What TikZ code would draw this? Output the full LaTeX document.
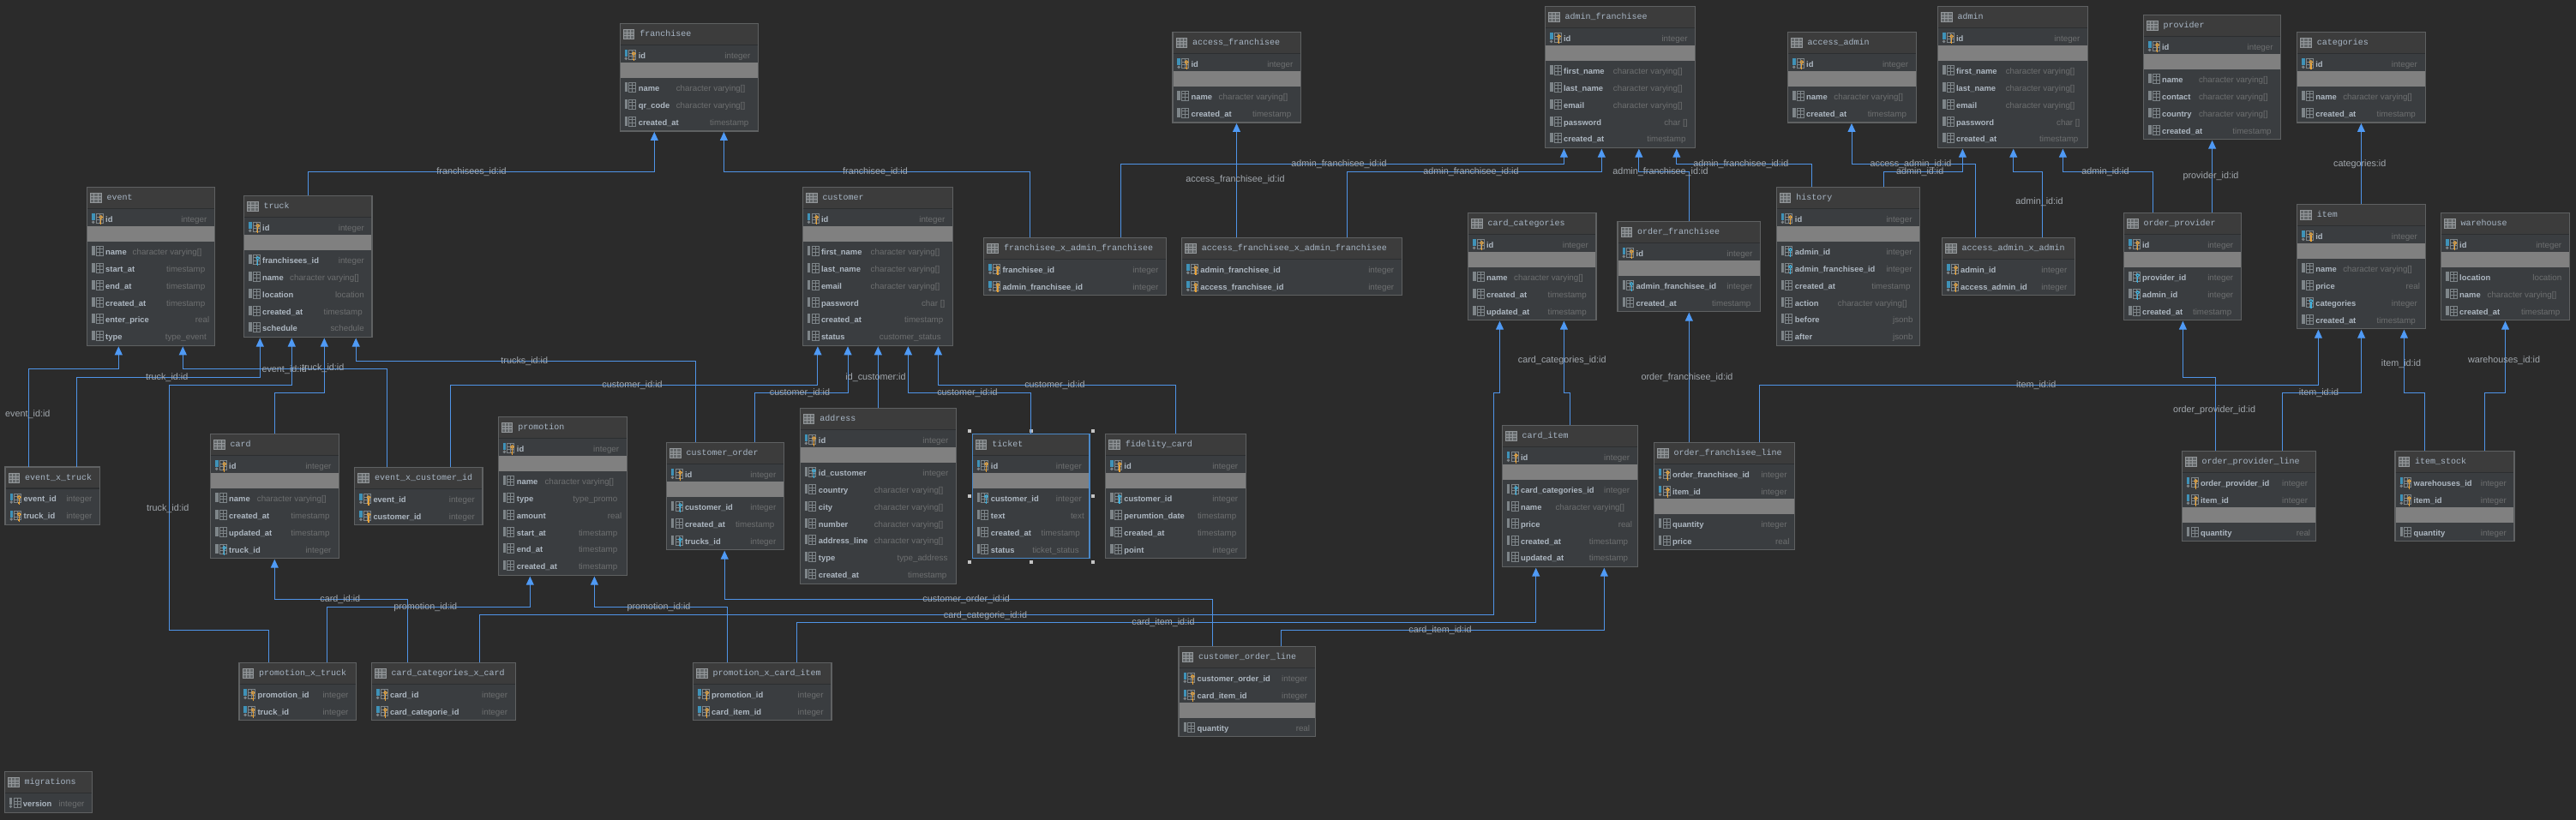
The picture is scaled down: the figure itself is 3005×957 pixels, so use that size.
\documentclass[tikz,border=0pt]{standalone}
\usepackage{fontspec}
\setmainfont{Liberation Sans}
\newfontfamily\titlefont{Liberation Mono}
\usetikzlibrary{arrows.meta}
\definecolor{bgc}{HTML}{2B2B2B}
\definecolor{bodyc}{HTML}{3A3D40}
\definecolor{headc}{HTML}{3C3C3C}
\definecolor{bandc}{HTML}{808080}
\definecolor{edgec}{HTML}{5F6162}
\definecolor{sepc}{HTML}{2C2E30}
\definecolor{titlec}{HTML}{A9B7C6}
\definecolor{namec}{HTML}{AEB8C2}
\definecolor{typec}{HTML}{6D6F70}
\definecolor{labelc}{HTML}{A2A8AE}
\definecolor{linec}{HTML}{4F94E8}
\definecolor{tipc}{HTML}{4F9AF5}
\definecolor{icong}{HTML}{7E8589}
\definecolor{icont}{HTML}{93979A}
\definecolor{iconb}{HTML}{3F92B8}
\definecolor{keyo}{HTML}{E8A33A}
\definecolor{keyc}{HTML}{3FB2DE}
\definecolor{selc}{HTML}{4A88C7}
\definecolor{handlec}{HTML}{C4C4C4}
\tikzset{
  tblbox/.style={draw=edgec,fill=bodyc,line width=1.2pt,inner sep=0pt,outer sep=0pt},
  tbltitle/.style={anchor=base west,inner sep=0pt,text=titlec,font=\titlefont\fontsize{10}{12}\selectfont},
  rowname/.style={anchor=base west,inner sep=0pt,text=namec,font=\bfseries\fontsize{9.4}{11}\selectfont},
  rowtype/.style={anchor=base east,inner sep=0pt,text=typec,font=\fontsize{9.8}{11}\selectfont},
  fk/.style={draw=linec,line width=1pt,shorten >=1pt,-{Triangle[width=9pt,length=10pt,fill=tipc,color=tipc]}},
  fklabel/.style={inner sep=0pt,text=labelc,font=\fontsize{10.8}{12}\selectfont},
  icline/.style={draw=icong,line width=.6pt},
}
\newcount\rc
\newcount\nid
\newcommand\deftype[3]{\expandafter\def\csname tyo@#1\endcsname{#2}\expandafter\def\csname tyt@#1\endcsname{#3}}
\deftype{int}{9}{integer}
\deftype{vc}{15}{character varying[]}
\deftype{ts}{11}{timestamp}
\deftype{real}{6}{real}
\deftype{chr}{9}{char []}
\deftype{loc}{9}{location}
\deftype{sch}{9}{schedule}
\deftype{tev}{9.5}{type\_event}
\deftype{cst}{13.5}{customer\_status}
\deftype{jsn}{8}{jsonb}
\deftype{txt}{6}{text}
\deftype{tad}{10}{type\_address}
\deftype{tks}{12}{ticket\_status}
\deftype{tpr}{11}{type\_promo}
\newcommand\colicon[3]{%
  \begin{scope}[shift={(#1,#2)}]
    \ifx#3p\fill[iconb] (0,0) rectangle (3.6,8);\fill[icong] (1.7,10) circle (1.9);
    \else\ifx#3n\fill[icong] (0,0) rectangle (3.6,8);\fill[icong] (1.7,10) circle (1.9);
    \else\fill[icong] (0,0) rectangle (3.6,11);\fi\fi
    \draw[icline] (5,.3) rectangle (13,10.7) (5,3.6) -- (13,3.6) (5,7) -- (13,7) (9,.3) -- (9,10.7);
    \ifx#3p\draw[keyo,line width=1.3pt] (10.8,6) -- (10.8,13.2) (10.8,11) -- (9,11);\draw[keyo,line width=1pt] (10.8,4.2) circle (1.8);\fi
    \ifx#3f\draw[keyc,line width=1.3pt] (10.8,6) -- (10.8,13.2) (10.8,11) -- (9,11);\draw[keyc,line width=1pt] (10.8,4.2) circle (1.8);\fi
  \end{scope}}
\newcommand\tbl[7][edgec]{% colour,name,x0,x1,top,bottom,title
  \def\cn{#2}\def\tl{#3}\def\tr{#4}
  \pgfmathsetmacro\cxx{(#3+#4)/2}\pgfmathsetmacro\cyy{(#5+#6)/2}
  \pgfmathsetmacro\tww{#4-#3}\pgfmathsetmacro\thh{#6-#5}
  \node[tblbox,draw=#1,minimum width=\tww pt,minimum height=\thh pt] (#2) at (\cxx,\cyy) {};
  \fill[headc] ({#3+.6},{#5+.6}) rectangle ({#4-.6},{#5+24.6});
  \draw[sepc,line width=1.2pt] ({#3+.6},{#5+25}) -- ({#4-.6},{#5+25});
  \begin{scope}[shift={({#3+4},{#5+7.5})}]
    \draw[draw=icont,line width=.8pt,fill=icong!60!headc] (0,0) rectangle (12.6,10.5) (0,3.5) -- (12.6,3.5) (0,7) -- (12.6,7) (4.2,0) -- (4.2,10.5) (8.4,0) -- (8.4,10.5);
  \end{scope}
  \node[tbltitle] (#2-title) at ({#3+23},{#5+15.5}) {#7};
  \pgfmathsetmacro\cy{#5+37.5}\rc=0
}
\newcommand\rw[3]{% icon,name,type
  \global\advance\nid by 1
  \colicon{\tl+5.5}{\cy-6.5}{#1}
  \node[rowname] (\cn-n\the\nid) at ({\tl+21.5},{\cy+3.4}) {#2};
  \node[rowtype] (\cn-t\the\nid) at ({\tr-\csname tyo@#3\endcsname},{\cy+3.4}) {\csname tyt@#3\endcsname};
  \advance\rc by 1
  \ifnum\rc=4 \pgfmathsetmacro\cy{\cy+19}\else\pgfmathsetmacro\cy{\cy+20}\fi
}
\newcommand\band{%
  \fill[bandc] ({\tl+.6},{\cy-11.8}) rectangle ({\tr-.6},{\cy+6.2});
  \pgfmathsetmacro\cy{\cy+17.9}\rc=0
}
\newcommand\lbl[4]{\node[fklabel] (#1) at (#2,#3) {#4};}
\begin{document}
\begin{tikzpicture}[x=1pt,y=-1pt]
\useasboundingbox (0,0) rectangle (3005,957);
\fill[bgc] (0,0) rectangle (3005,957);

\tbl{event}{101.5}{250.5}{218.3}{403.3}{event}
 \rw{p}{id}{int}\band\rw{c}{name}{vc}\rw{c}{start\_at}{ts}\rw{c}{end\_at}{ts}\rw{c}{created\_at}{ts}\rw{c}{enter\_price}{real}\rw{c}{type}{tev}
\tbl{truck}{284.5}{434}{228.3}{393.5}{truck}
 \rw{p}{id}{int}\band\rw{f}{franchisees\_id}{int}\rw{c}{name}{vc}\rw{c}{location}{loc}\rw{c}{created\_at}{ts}\rw{c}{schedule}{sch}
\tbl{franchisee}{723.1}{884.6}{27.3}{153}{franchisee}
 \rw{p}{id}{int}\band\rw{c}{name}{vc}\rw{c}{qr\_code}{vc}\rw{c}{created\_at}{ts}
\tbl{customer}{936.3}{1111.5}{218.3}{403.3}{customer}
 \rw{p}{id}{int}\band\rw{c}{first\_name}{vc}\rw{c}{last\_name}{vc}\rw{c}{email}{vc}\rw{c}{password}{chr}\rw{c}{created\_at}{ts}\rw{c}{status}{cst}
\tbl{fxaf}{1147.8}{1360.6}{277.3}{344.3}{franchisee\_x\_admin\_franchisee}
 \rw{p}{franchisee\_id}{int}\rw{p}{admin\_franchisee\_id}{int}
\tbl{afxaf}{1378.6}{1635.4}{277.3}{344.3}{access\_franchisee\_x\_admin\_franchisee}
 \rw{p}{admin\_franchisee\_id}{int}\rw{p}{access\_franchisee\_id}{int}
\tbl{accessfranchisee}{1367.9}{1517.5}{37.3}{143}{access\_franchisee}
 \rw{p}{id}{int}\band\rw{c}{name}{vc}\rw{c}{created\_at}{ts}
\tbl{adminfranchisee}{1802.4}{1977.7}{7.3}{172.7}{admin\_franchisee}
 \rw{p}{id}{int}\band\rw{c}{first\_name}{vc}\rw{c}{last\_name}{vc}\rw{c}{email}{vc}\rw{c}{password}{chr}\rw{c}{created\_at}{ts}
\tbl{accessadmin}{2085.5}{2235.2}{37.3}{143}{access\_admin}
 \rw{p}{id}{int}\band\rw{c}{name}{vc}\rw{c}{created\_at}{ts}
\tbl{admin}{2260.4}{2435.6}{7.3}{172.7}{admin}
 \rw{p}{id}{int}\band\rw{c}{first\_name}{vc}\rw{c}{last\_name}{vc}\rw{c}{email}{vc}\rw{c}{password}{chr}\rw{c}{created\_at}{ts}
\tbl{provider}{2500.4}{2660.8}{17.3}{162.7}{provider}
 \rw{p}{id}{int}\band\rw{c}{name}{vc}\rw{c}{contact}{vc}\rw{c}{country}{vc}\rw{c}{created\_at}{ts}
\tbl{categories}{2679.6}{2829.1}{37.3}{143}{categories}
 \rw{p}{id}{int}\band\rw{c}{name}{vc}\rw{c}{created\_at}{ts}
\tbl{cardcategories}{1712.4}{1862}{248.3}{373.7}{card\_categories}
 \rw{p}{id}{int}\band\rw{c}{name}{vc}\rw{c}{created\_at}{ts}\rw{c}{updated\_at}{ts}
\tbl{orderfranchisee}{1887}{2053.6}{258.3}{363.7}{order\_franchisee}
 \rw{p}{id}{int}\band\rw{f}{admin\_franchisee\_id}{int}\rw{c}{created\_at}{ts}
\tbl{history}{2072.2}{2239.7}{218.3}{403.3}{history}
 \rw{p}{id}{int}\band\rw{f}{admin\_id}{int}\rw{f}{admin\_franchisee\_id}{int}\rw{c}{created\_at}{ts}\rw{c}{action}{vc}\rw{c}{before}{jsn}\rw{c}{after}{jsn}
\tbl{accessadminxadmin}{2265.4}{2420.6}{277.3}{344.3}{access\_admin\_x\_admin}
 \rw{p}{admin\_id}{int}\rw{p}{access\_admin\_id}{int}
\tbl{orderprovider}{2477.4}{2614.4}{248.3}{373.7}{order\_provider}
 \rw{p}{id}{int}\band\rw{f}{provider\_id}{int}\rw{f}{admin\_id}{int}\rw{c}{created\_at}{ts}
\tbl{item}{2679.6}{2829.1}{238.3}{383.7}{item}
 \rw{p}{id}{int}\band\rw{c}{name}{vc}\rw{c}{price}{real}\rw{f}{categories}{int}\rw{c}{created\_at}{ts}
\tbl{warehouse}{2847.5}{2997.4}{248.3}{373.7}{warehouse}
 \rw{p}{id}{int}\band\rw{c}{location}{loc}\rw{c}{name}{vc}\rw{c}{created\_at}{ts}
\tbl{eventxtruck}{6}{116.7}{545}{612.7}{event\_x\_truck}
 \rw{p}{event\_id}{int}\rw{p}{truck\_id}{int}
\tbl{card}{245.5}{395.7}{506.3}{651.7}{card}
 \rw{p}{id}{int}\band\rw{c}{name}{vc}\rw{c}{created\_at}{ts}\rw{c}{updated\_at}{ts}\rw{f}{truck\_id}{int}
\tbl{eventxcustomerid}{413.8}{563}{545.3}{612.7}{event\_x\_customer\_id}
 \rw{p}{event\_id}{int}\rw{p}{customer\_id}{int}
\tbl{promotion}{581.2}{731.4}{486.3}{671.7}{promotion}
 \rw{p}{id}{int}\band\rw{c}{name}{vc}\rw{c}{type}{tpr}\rw{c}{amount}{real}\rw{c}{start\_at}{ts}\rw{c}{end\_at}{ts}\rw{c}{created\_at}{ts}
\tbl{customerorder}{777.3}{914.6}{516.3}{641.7}{customer\_order}
 \rw{p}{id}{int}\band\rw{f}{customer\_id}{int}\rw{c}{created\_at}{ts}\rw{f}{trucks\_id}{int}
\tbl{address}{933.2}{1115.6}{476.3}{681.7}{address}
 \rw{p}{id}{int}\band\rw{f}{id\_customer}{int}\rw{c}{country}{vc}\rw{c}{city}{vc}\rw{c}{number}{vc}\rw{c}{address\_line}{vc}\rw{c}{type}{tad}\rw{c}{created\_at}{ts}
\tbl[selc]{ticket}{1134.2}{1271}{506.3}{651.7}{ticket}
 \rw{p}{id}{int}\band\rw{f}{customer\_id}{int}\rw{c}{text}{txt}\rw{c}{created\_at}{ts}\rw{c}{status}{tks}
\tbl{fidelitycard}{1289.7}{1453.4}{506.3}{651.7}{fidelity\_card}
 \rw{p}{id}{int}\band\rw{f}{customer\_id}{int}\rw{c}{perumtion\_date}{ts}\rw{c}{created\_at}{ts}\rw{c}{point}{int}
\tbl{carditem}{1752.3}{1910.3}{496.3}{661.7}{card\_item}
 \rw{p}{id}{int}\band\rw{f}{card\_categories\_id}{int}\rw{c}{name}{vc}\rw{c}{price}{real}\rw{c}{created\_at}{ts}\rw{c}{updated\_at}{ts}
\tbl{orderfranchiseeline}{1929.3}{2093.7}{516.3}{641.7}{order\_franchisee\_line}
 \rw{p}{order\_franchisee\_id}{int}\rw{p}{item\_id}{int}\band\rw{c}{quantity}{int}\rw{c}{price}{real}
\tbl{orderproviderline}{2545.3}{2701.3}{526.3}{631.7}{order\_provider\_line}
 \rw{p}{order\_provider\_id}{int}\rw{p}{item\_id}{int}\band\rw{c}{quantity}{real}
\tbl{itemstock}{2794}{2933}{526.3}{631.7}{item\_stock}
 \rw{p}{warehouses\_id}{int}\rw{p}{item\_id}{int}\band\rw{c}{quantity}{int}
\tbl{customerorderline}{1375}{1534.3}{754.3}{859.7}{customer\_order\_line}
 \rw{p}{customer\_order\_id}{int}\rw{p}{card\_item\_id}{int}\band\rw{c}{quantity}{real}
\tbl{promotionxtruck}{278.9}{415.7}{773.3}{840.7}{promotion\_x\_truck}
 \rw{p}{promotion\_id}{int}\rw{p}{truck\_id}{int}
\tbl{cardcategoriesxcard}{433.4}{601.3}{773.3}{840.7}{card\_categories\_x\_card}
 \rw{p}{card\_id}{int}\rw{p}{card\_categorie\_id}{int}
\tbl{promotionxcarditem}{808.5}{969.9}{773.3}{840.7}{promotion\_x\_card\_item}
 \rw{p}{promotion\_id}{int}\rw{p}{card\_item\_id}{int}
\tbl{migrations}{5.3}{107.7}{900.3}{948.3}{migrations}
 \rw{n}{version}{int}

% selection handles of the ticket table
\foreach \hx/\hy in {1130.5/503,1202.6/503,1275.1/503,1130.5/579,1275.1/579,1130.5/655.7,1202.6/655.7,1275.1/655.7}
  \fill[handlec] ({\hx-2},{\hy-2}) rectangle ({\hx+2},{\hy+2});

% connectors
\draw[fk] (359.3,0 |- truck.north) -- (359.3,200.7) -- (763.3,200.7) -- (763.3,0 |- franchisee.south);
\draw[fk] (1201.5,0 |- fxaf.north) -- (1201.5,200.7) -- (844.4,200.7) -- (844.4,0 |- franchisee.south);
\draw[fk] (1307.4,0 |- fxaf.north) -- (1307.4,191.7) -- (1824.4,191.7) -- (1824.4,0 |- adminfranchisee.south);
\draw[fk] (1442.5,0 |- afxaf.north) -- (1442.5,0 |- accessfranchisee.south);
\draw[fk] (1571.5,0 |- afxaf.north) -- (1571.5,200.7) -- (1868.3,200.7) -- (1868.3,0 |- adminfranchisee.south);
\draw[fk] (1970.3,0 |- orderfranchisee.north) -- (1970.3,200.7) -- (1911.8,200.7) -- (1911.8,0 |- adminfranchisee.south);
\draw[fk] (2113.3,0 |- history.north) -- (2113.3,191.7) -- (1955.8,191.7) -- (1955.8,0 |- adminfranchisee.south);
\draw[fk] (2304.4,0 |- accessadminxadmin.north) -- (2304.4,191.7) -- (2160,191.7) -- (2160,0 |- accessadmin.south);
\draw[fk] (2197.4,0 |- history.north) -- (2197.4,200.7) -- (2289.4,200.7) -- (2289.4,0 |- admin.south);
\draw[fk] (2382.6,0 |- accessadminxadmin.north) -- (2382.6,200.7) -- (2348.7,200.7) -- (2348.7,0 |- admin.south);
\draw[fk] (2511.2,0 |- orderprovider.north) -- (2511.2,200.7) -- (2406.4,200.7) -- (2406.4,0 |- admin.south);
\draw[fk] (2580.6,0 |- orderprovider.north) -- (2580.6,0 |- provider.south);
\draw[fk] (2754.4,0 |- item.north) -- (2754.4,0 |- categories.south);
\draw[fk] (33.3,0 |- eventxtruck.north) -- (33.3,430.3) -- (138.3,430.3) -- (138.3,0 |- event.south);
\draw[fk] (89.3,0 |- eventxtruck.north) -- (89.3,440.3) -- (303.3,440.3) -- (303.3,0 |- truck.south);
\draw[fk] (313.5,0 |- promotionxtruck.north) -- (313.5,735.3) -- (197.3,735.3) -- (197.3,449.3) -- (340.3,449.3) -- (340.3,0 |- truck.south);
\draw[fk] (320.3,0 |- card.north) -- (320.3,458.3) -- (378.3,458.3) -- (378.3,0 |- truck.south);
\draw[fk] (451.3,0 |- eventxcustomerid.north) -- (451.3,430.3) -- (213.3,430.3) -- (213.3,0 |- event.south);
\draw[fk] (811.3,0 |- customerorder.north) -- (811.3,421.3) -- (415.2,421.3) -- (415.2,0 |- truck.south);
\draw[fk] (525.2,0 |- eventxcustomerid.north) -- (525.2,449.3) -- (953.9,449.3) -- (953.9,0 |- customer.south);
\draw[fk] (880.6,0 |- customerorder.north) -- (880.6,458.3) -- (989,458.3) -- (989,0 |- customer.south);
\draw[fk] (1024.3,0 |- address.north) -- (1024.3,0 |- customer.south);
\draw[fk] (1202.6,0 |- ticket.north) -- (1202.6,458.3) -- (1059.4,458.3) -- (1059.4,0 |- customer.south);
\draw[fk] (1371.3,0 |- fidelitycard.north) -- (1371.3,449.3) -- (1094.4,449.3) -- (1094.4,0 |- customer.south);
\draw[fk] (1831.7,0 |- carditem.north) -- (1831.7,458.3) -- (1824.4,458.3) -- (1824.4,0 |- cardcategories.south);
\draw[fk] (559.5,0 |- cardcategoriesxcard.north) -- (559.5,717.3) -- (1742.3,717.3) -- (1742.3,458.3) -- (1749.5,458.3) -- (1749.5,0 |- cardcategories.south);
\draw[fk] (1970.3,0 |- orderfranchiseeline.north) -- (1970.3,0 |- orderfranchisee.south);
\draw[fk] (2052.3,0 |- orderfranchiseeline.north) -- (2052.3,449.3) -- (2704.4,449.3) -- (2704.4,0 |- item.south);
\draw[fk] (2584.6,0 |- orderproviderline.north) -- (2584.6,440.3) -- (2546.4,440.3) -- (2546.4,0 |- orderprovider.south);
\draw[fk] (2662.6,0 |- orderproviderline.north) -- (2662.6,458.3) -- (2754.6,458.3) -- (2754.6,0 |- item.south);
\draw[fk] (2828.3,0 |- itemstock.north) -- (2828.3,458.3) -- (2804.4,458.3) -- (2804.4,0 |- item.south);
\draw[fk] (2898.7,0 |- itemstock.north) -- (2898.7,458.3) -- (2922.5,458.3) -- (2922.5,0 |- warehouse.south);
\draw[fk] (381.5,0 |- promotionxtruck.north) -- (381.5,708.3) -- (618.3,708.3) -- (618.3,0 |- promotion.south);
\draw[fk] (475.3,0 |- cardcategoriesxcard.north) -- (475.3,699.3) -- (320.3,699.3) -- (320.3,0 |- card.south);
\draw[fk] (848.3,0 |- promotionxcarditem.north) -- (848.3,708.3) -- (693.4,708.3) -- (693.4,0 |- promotion.south);
\draw[fk] (929.7,0 |- promotionxcarditem.north) -- (929.7,726.3) -- (1791.7,726.3) -- (1791.7,0 |- carditem.south);
\draw[fk] (1414.7,0 |- customerorderline.north) -- (1414.7,699.3) -- (845.2,699.3) -- (845.2,0 |- customerorder.south);
\draw[fk] (1494.6,0 |- customerorderline.north) -- (1494.6,735.3) -- (1871.3,735.3) -- (1871.3,0 |- carditem.south);

% labels
\lbl{l1}{550}{201}{franchisees\_id:id}
\lbl{l2}{1021}{201}{franchisee\_id:id}
\lbl{l3}{1562}{191.5}{admin\_franchisee\_id:id}
\lbl{l4}{1441}{210}{access\_franchisee\_id:id}
\lbl{l5}{1716}{201}{admin\_franchisee\_id:id}
\lbl{l6}{1937}{201}{admin\_franchisee\_id:id}
\lbl{l7}{2030.8}{191.5}{admin\_franchisee\_id:id}
\lbl{l8}{2229}{191.5}{access\_admin\_id:id}
\lbl{l9}{2239.7}{201}{admin\_id:id}
\lbl{l10}{2379}{235.3}{admin\_id:id}
\lbl{l11}{2456}{201}{admin\_id:id}
\lbl{l12}{2579}{206}{provider\_id:id}
\lbl{l13}{2752.7}{191.5}{categories:id}
\lbl{l14}{32.3}{484}{event\_id:id}
\lbl{l15}{194.7}{440.3}{truck\_id:id}
\lbl{l16}{195.7}{593.3}{truck\_id:id}
\lbl{l17}{376.7}{430}{truck\_id:id}
\lbl{l18}{331.7}{431.3}{event\_id:id}
\lbl{l19}{611.8}{422}{trucks\_id:id}
\lbl{l20}{737.6}{449.3}{customer\_id:id}
\lbl{l21}{933}{458.3}{customer\_id:id}
\lbl{l22}{1021.5}{440.3}{id\_customer:id}
\lbl{l23}{1128.4}{458.3}{customer\_id:id}
\lbl{l24}{1230.4}{449.3}{customer\_id:id}
\lbl{l25}{1822.3}{420.3}{card\_categories\_id:id}
\lbl{l26}{1149.5}{718.3}{card\_categorie\_id:id}
\lbl{l27}{1968}{440.3}{order\_franchisee\_id:id}
\lbl{l28}{2375.2}{449.3}{item\_id:id}
\lbl{l29}{2583}{479}{order\_provider\_id:id}
\lbl{l30}{2705}{458.3}{item\_id:id}
\lbl{l31}{2801}{425}{item\_id:id}
\lbl{l32}{2921}{420.3}{warehouses\_id:id}
\lbl{l33}{496.3}{709}{promotion\_id:id}
\lbl{l34}{396.8}{700}{card\_id:id}
\lbl{l35}{768.5}{709}{promotion\_id:id}
\lbl{l36}{1357}{727}{card\_item\_id:id}
\lbl{l37}{1127.2}{700}{customer\_order\_id:id}
\lbl{l38}{1680}{736}{card\_item\_id:id}
\end{tikzpicture}
\end{document}
